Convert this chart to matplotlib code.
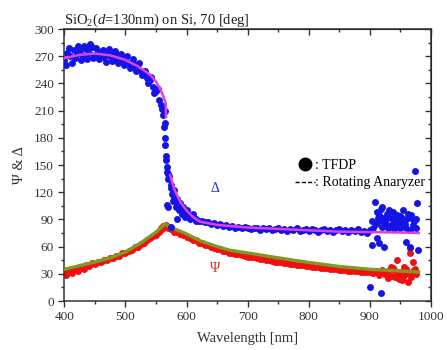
import matplotlib
matplotlib.use("Agg")
import matplotlib.pyplot as plt
from matplotlib.lines import Line2D
from matplotlib.ticker import MultipleLocator
import numpy as np

plt.rcParams['font.family'] = ['Liberation Serif', 'DejaVu Serif']
plt.rcParams['mathtext.fontset'] = 'custom'
plt.rcParams['mathtext.rm'] = 'Liberation Serif'
plt.rcParams['mathtext.it'] = 'Liberation Serif:italic'

# ---------------- data ----------------
wl = list(range(400, 980, 5))

delta_tfdp = [266, 274, 270, 277, 272, 276, 270, 278, 274, 280, 271, 276, 273, 269, 275, 270,
              272, 266, 271, 265, 268, 262, 264, 258, 261, 254, 252, 246, 244, 236, 232, 222,
              212, 196, 140, 125, 114, 107, 103, 98, 97, 95, 93, 91, 88, 88, 87, 87,
              85, 86, 84, 85, 83, 84, 82, 83, 81, 82, 80, 82, 81, 79, 81, 80,
              78, 80, 79, 81, 78, 79, 80, 78, 79, 77, 79, 78, 80, 77, 78, 79,
              77, 79, 78, 76, 78, 79, 77, 78, 76, 78, 79, 77, 78, 76, 78, 77,
              79, 76, 77, 75, 78, 80, 85, 88, 82, 86, 80, 84, 79, 83, 80, 86,
              81, 78, 84, 80]

wl_b = [402.5, 407.5, 412.5, 417.5, 422.5, 427.5, 432.5, 437.5, 442.5, 447.5, 452.5, 457.5,
        462.5, 467.5, 472.5, 477.5, 482.5, 487.5, 492.5, 497.5, 502.5, 507.5, 512.5, 517.5,
        522.5, 527.5, 532.5, 537.5, 542.5, 547.5, 552.5, 557.5]
delta_tfdp_b = [260, 279, 263, 268, 281, 266, 281, 267, 283, 268, 279, 267, 277, 264, 278, 265,
                276, 262, 273, 260, 270, 257, 267, 254, 262, 249, 254, 240, 247, 230, 234, 216]

delta_extra_wl = [562, 563, 564, 565, 565, 566, 567, 568, 568, 569, 570, 572, 568, 574, 576,
                  578, 580, 582, 584, 585, 588, 590, 592, 595, 598, 600, 605, 610, 615, 575,
                  900, 903, 908, 912, 915, 918, 919, 911, 915, 924, 922, 928, 932, 935, 938,
                  942, 945, 948, 952, 955, 958, 962, 960, 965, 968, 972, 974, 977, 979, 976,
                  904, 913, 920, 926, 940, 950, 957, 963, 970]
delta_extra = [205, 192, 210, 180, 172, 160, 155, 148, 142, 104, 135, 138, 106, 128, 118,
               110, 122, 104, 90, 112, 100, 108, 96, 104, 93, 100, 90, 96, 88, 82,
               15, 62, 109, 98, 95, 102, 9, 69, 64, 60, 92, 96, 100, 92, 98,
               90, 95, 88, 92, 100, 85, 92, 65, 60, 95, 88, 143, 108, 56, 90,
               88, 92, 104, 90, 86, 94, 89, 96, 91]

psi_tfdp = [32, 34, 33, 35.5, 35, 37.5, 37, 39.5, 39, 41.5, 41, 43.5, 43, 45.5, 45, 47,
            47.5, 50, 50, 53, 52.5, 55.5, 56, 59.5, 60, 63, 64, 67, 69, 72, 73, 76.5,
            79, 82, 80.5, 79, 76.5, 76, 73.5, 73, 70.5, 70, 67.5, 67, 64.5, 64, 62, 61.5,
            59.5, 59, 57.5, 57, 55.5, 55, 53.5, 53, 52, 51.5, 50.5, 50, 49, 48.5, 48, 47,
            46.5, 46, 45.5, 45, 44.5, 43.5, 43.5, 42.5, 42, 41.5, 41, 40.5, 40, 39.5, 39.5, 39,
            38.5, 38, 37.5, 37.5, 36.5, 36.5, 36, 35.5, 35.5, 35, 34.5, 34.5, 34, 33.5, 33.5, 33,
            33, 32.5, 32.5, 32, 32, 31, 33, 29, 34, 30, 33, 28, 34, 29, 32, 27,
            35, 29, 33, 30]

psi_extra_wl = [944, 965, 965, 971, 952, 962, 930, 938, 948, 956, 968, 974, 958, 942, 935,
                558, 562, 567, 572, 402, 412, 422, 432]
psi_extra = [45, 58, 52.5, 43, 23, 21, 25, 36, 24, 38, 26, 35, 30, 26, 38,
             80, 83, 84, 82, 29, 31, 33, 35]

ra_psi_wl = [400, 425, 450, 475, 500, 525, 550, 565, 575, 600, 622, 650, 671, 700, 737,
             775, 800, 851, 900, 950, 980]
ra_psi = [35, 39, 43, 47.5, 54, 64, 76, 85, 81, 74, 66.5, 60, 56, 53, 49,
          45, 42.5, 38, 35, 33, 32]

ra_delta_wl1 = [400, 425, 450, 475, 500, 520, 540, 550, 556, 562, 566, 566.5]
ra_delta1 = [268, 271.5, 273, 271, 266, 259, 250, 242, 235, 226, 218, 203]
ra_delta_wl2 = [573, 580, 590, 600, 610, 622, 650, 700, 737, 800, 851, 900, 950, 980]
ra_delta2 = [139, 123, 109, 100, 93, 87.5, 84, 81, 80, 78, 76.5, 76, 75.5, 75]

x_ticks = [400, 500, 600, 700, 800, 900, 1000]
y_ticks = [0, 30, 60, 90, 120, 150, 180, 210, 240, 270, 300]

# ---------------- figure ----------------
fig = plt.figure(figsize=(4.47, 3.5), dpi=100)
ax = fig.add_axes([0.144, 0.14, 0.820, 0.777])

blue = '#1414E6'
red = '#F01010'
ms = 5.0
ax.plot(wl, psi_tfdp, 'o', color=red, ms=ms, mec='none', zorder=2)
ax.plot(psi_extra_wl, psi_extra, 'o', color=red, ms=ms, mec='none', zorder=2)
ax.plot(ra_psi_wl, ra_psi, '-', color='#7E9A22', lw=2.4, zorder=3)
ax.plot(wl, delta_tfdp, 'o', color=blue, ms=ms, mec='none', zorder=4)
ax.plot(wl_b, delta_tfdp_b, 'o', color=blue, ms=ms, mec='none', zorder=4)
ax.plot(delta_extra_wl, delta_extra, 'o', color=blue, ms=ms, mec='none', zorder=4)
ax.plot(ra_delta_wl1, ra_delta1, '-', color='#E040E0', lw=1.8, zorder=5)
ax.plot(ra_delta_wl2, ra_delta2, '-', color='#E040E0', lw=1.8, zorder=5)

ax.set_xlim(400, 1000)
ax.set_ylim(0, 300)
ax.set_xticks(x_ticks)
ax.set_yticks(y_ticks)
ax.xaxis.set_minor_locator(MultipleLocator(50))
ax.yaxis.set_minor_locator(MultipleLocator(15))
ax.tick_params(which='both', direction='out', labelsize=9.5, colors='#333333', width=1)
ax.tick_params(which='major', length=4)
ax.tick_params(which='minor', length=2.5)
for s in ax.spines.values():
    s.set_linewidth(1.1)
    s.set_color('#333333')

top = ax.secondary_xaxis('top')
top.set_xticks(x_ticks)
top.xaxis.set_minor_locator(MultipleLocator(50))
top.tick_params(which='both', direction='in', labeltop=False, colors='#333333', width=1)
top.tick_params(which='major', length=4)
top.tick_params(which='minor', length=2.5)
right = ax.secondary_yaxis('right')
right.set_yticks(y_ticks)
right.yaxis.set_minor_locator(MultipleLocator(15))
right.tick_params(which='both', direction='in', labelright=False, colors='#333333', width=1)
right.tick_params(which='major', length=4)
right.tick_params(which='minor', length=2.5)

ax.set_xlabel('Wavelength [nm]', fontsize=10.5, color='#333333', labelpad=6)
ax.set_ylabel('Ψ & Δ', fontsize=10.5, color='#333333', labelpad=6)
ax.set_title(r'SiO$_2$($\mathit{d}$=130nm) on Si, 70 [deg]', loc='left', fontsize=10.5,
             color='#222222', pad=4)

ax.text(646, 124, 'Δ', color='#3030E0', fontsize=10, ha='center', va='center')
ax.text(646, 36, 'Ψ', color='#E02020', fontsize=10, ha='center', va='center')

handles = [Line2D([], [], marker='o', color='k', ls='none', ms=9),
           Line2D([], [], color='k', ls='--', lw=1, dashes=(3, 1.5))]
leg = fig.legend(handles, [': TFDP', ': Rotating Anaryzer'], loc='upper left',
                 bbox_to_anchor=(0.645, 0.565), frameon=False, fontsize=10,
                 handlelength=1.4, handletextpad=0.05, borderpad=0, labelspacing=0.3)

fig.savefig('out.png', dpi=100)
